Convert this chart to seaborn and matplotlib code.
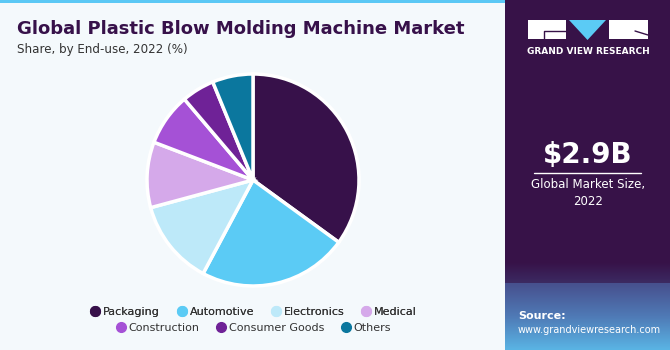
import numpy as np
import seaborn as sns
import matplotlib.pyplot as plt
from matplotlib.lines import Line2D
from matplotlib.patches import Rectangle, Polygon

# share by end-use, 2022 (%)
segments = ['Packaging', 'Automotive', 'Electronics', 'Medical',
            'Construction', 'Consumer Goods', 'Others']
shares = [35.0, 22.8, 13.0, 10.0, 8.0, 5.0, 6.2]
colors = ['#37114a', '#5bcbf5', '#bde9f9', '#d5a9ea',
          '#a551d6', '#6f2297', '#0b779e']

title = 'Global Plastic Blow Molding Machine Market'
subtitle = 'Share, by End-use, 2022 (%)'
market_size = '$2.9B'
market_label = 'Global Market Size,\n2022'

sns.set_theme(style='white')
plt.rcParams['font.family'] = ['DejaVu Sans']
pal = sns.color_palette(colors)

W, H = 670, 350
fig = plt.figure(figsize=(6.7, 3.5), dpi=100)
fig.patch.set_facecolor('#f4f9fc')

# background pieces in pixel coords
bg = fig.add_axes([0, 0, 1, 1])
bg.axis('off')
bg.add_patch(Rectangle((0, 0), W, 3, color='#5bc8f5', lw=0))
bg.add_patch(Rectangle((505, 0), W - 505, H, color='#371248', lw=0))
# bottom fade of the side panel
fade = sns.blend_palette(['#371248', '#3c2a62'], as_cmap=True)
bg.imshow(np.linspace(0, 1, 50).reshape(-1, 1), extent=(505, W, 283, 262),
          cmap=fade, aspect='auto', zorder=1)
floor = sns.blend_palette(['#47508e', '#4f7ab6', '#5ab4e4'], as_cmap=True)
bg.imshow(np.linspace(0, 1, 100).reshape(-1, 1), extent=(505, W, H, 283),
          cmap=floor, aspect='auto', zorder=1)
bg.set_xlim(0, W)
bg.set_ylim(H, 0)

# logo
bg.add_patch(Rectangle((528, 20), 38, 19, color='white', lw=0, zorder=2))
bg.add_patch(Polygon([[569, 20], [606, 20], [587.5, 40]], color='#5bcbf5', lw=0, zorder=2))
bg.add_patch(Rectangle((609, 20), 39, 19, color='white', lw=0, zorder=2))
bg.plot([566, 544, 544], [31, 31, 39], color='#371248', lw=1, zorder=3)
bg.plot([635, 648], [31, 35], color='#371248', lw=1, zorder=3)
bg.text(588, 51, 'GRAND VIEW RESEARCH', color='white', fontsize=6.5,
        fontweight='bold', ha='center', va='center', zorder=3)

bg.text(588, 155, market_size, color='white', fontsize=20, fontweight='bold',
        ha='center', va='center', zorder=3)
bg.plot([534, 641], [173, 173], color='white', lw=1, zorder=3)
bg.text(588, 193, market_label, color='white', fontsize=8.5, ha='center',
        va='center', linespacing=1.35, zorder=3)
bg.text(518, 316, 'Source:', color='white', fontsize=8, fontweight='bold',
        ha='left', va='center', zorder=3)
bg.text(518, 330, 'www.grandviewresearch.com', color='white', fontsize=7,
        ha='left', va='center', zorder=3)

# titles
bg.text(17, 29, title, color='#37114a', fontsize=13, fontweight='bold',
        ha='left', va='center')
bg.text(17, 49, subtitle, color='#333333', fontsize=8.6, ha='left', va='center')

# pie
cx, cy, r = 253, 180, 106
ax = fig.add_axes([(cx - r) / W, 1 - (cy + r) / H, 2 * r / W, 2 * r / H])
ax.pie(shares, colors=pal, startangle=90, counterclock=False,
       wedgeprops=dict(edgecolor='white', linewidth=2.5))
ax.set_aspect('auto')
ax.set_xlim(-1.0, 1.0)
ax.set_ylim(-1.0, 1.0)
ax.axis('off')

# legend in two centred rows
handles = [Line2D([], [], marker='o', linestyle='', markersize=7,
                  markerfacecolor=c, markeredgecolor=c) for c in pal]
leg_kw = dict(loc='center', frameon=False, fontsize=8, handletextpad=0.15,
              columnspacing=1.4, handlelength=1.1)
row1 = fig.legend(handles[:4], segments[:4], ncol=4,
                  bbox_to_anchor=(253 / W, 1 - 312 / H), **leg_kw)
row2 = fig.legend(handles[4:], segments[4:], ncol=3,
                  bbox_to_anchor=(253 / W, 1 - 328 / H), **leg_kw)
for lg in (row1, row2):
    for t in lg.get_texts():
        t.set_color('#333333')
fig.add_artist(row1)

fig.savefig('out.png', dpi=100, facecolor=fig.get_facecolor())
